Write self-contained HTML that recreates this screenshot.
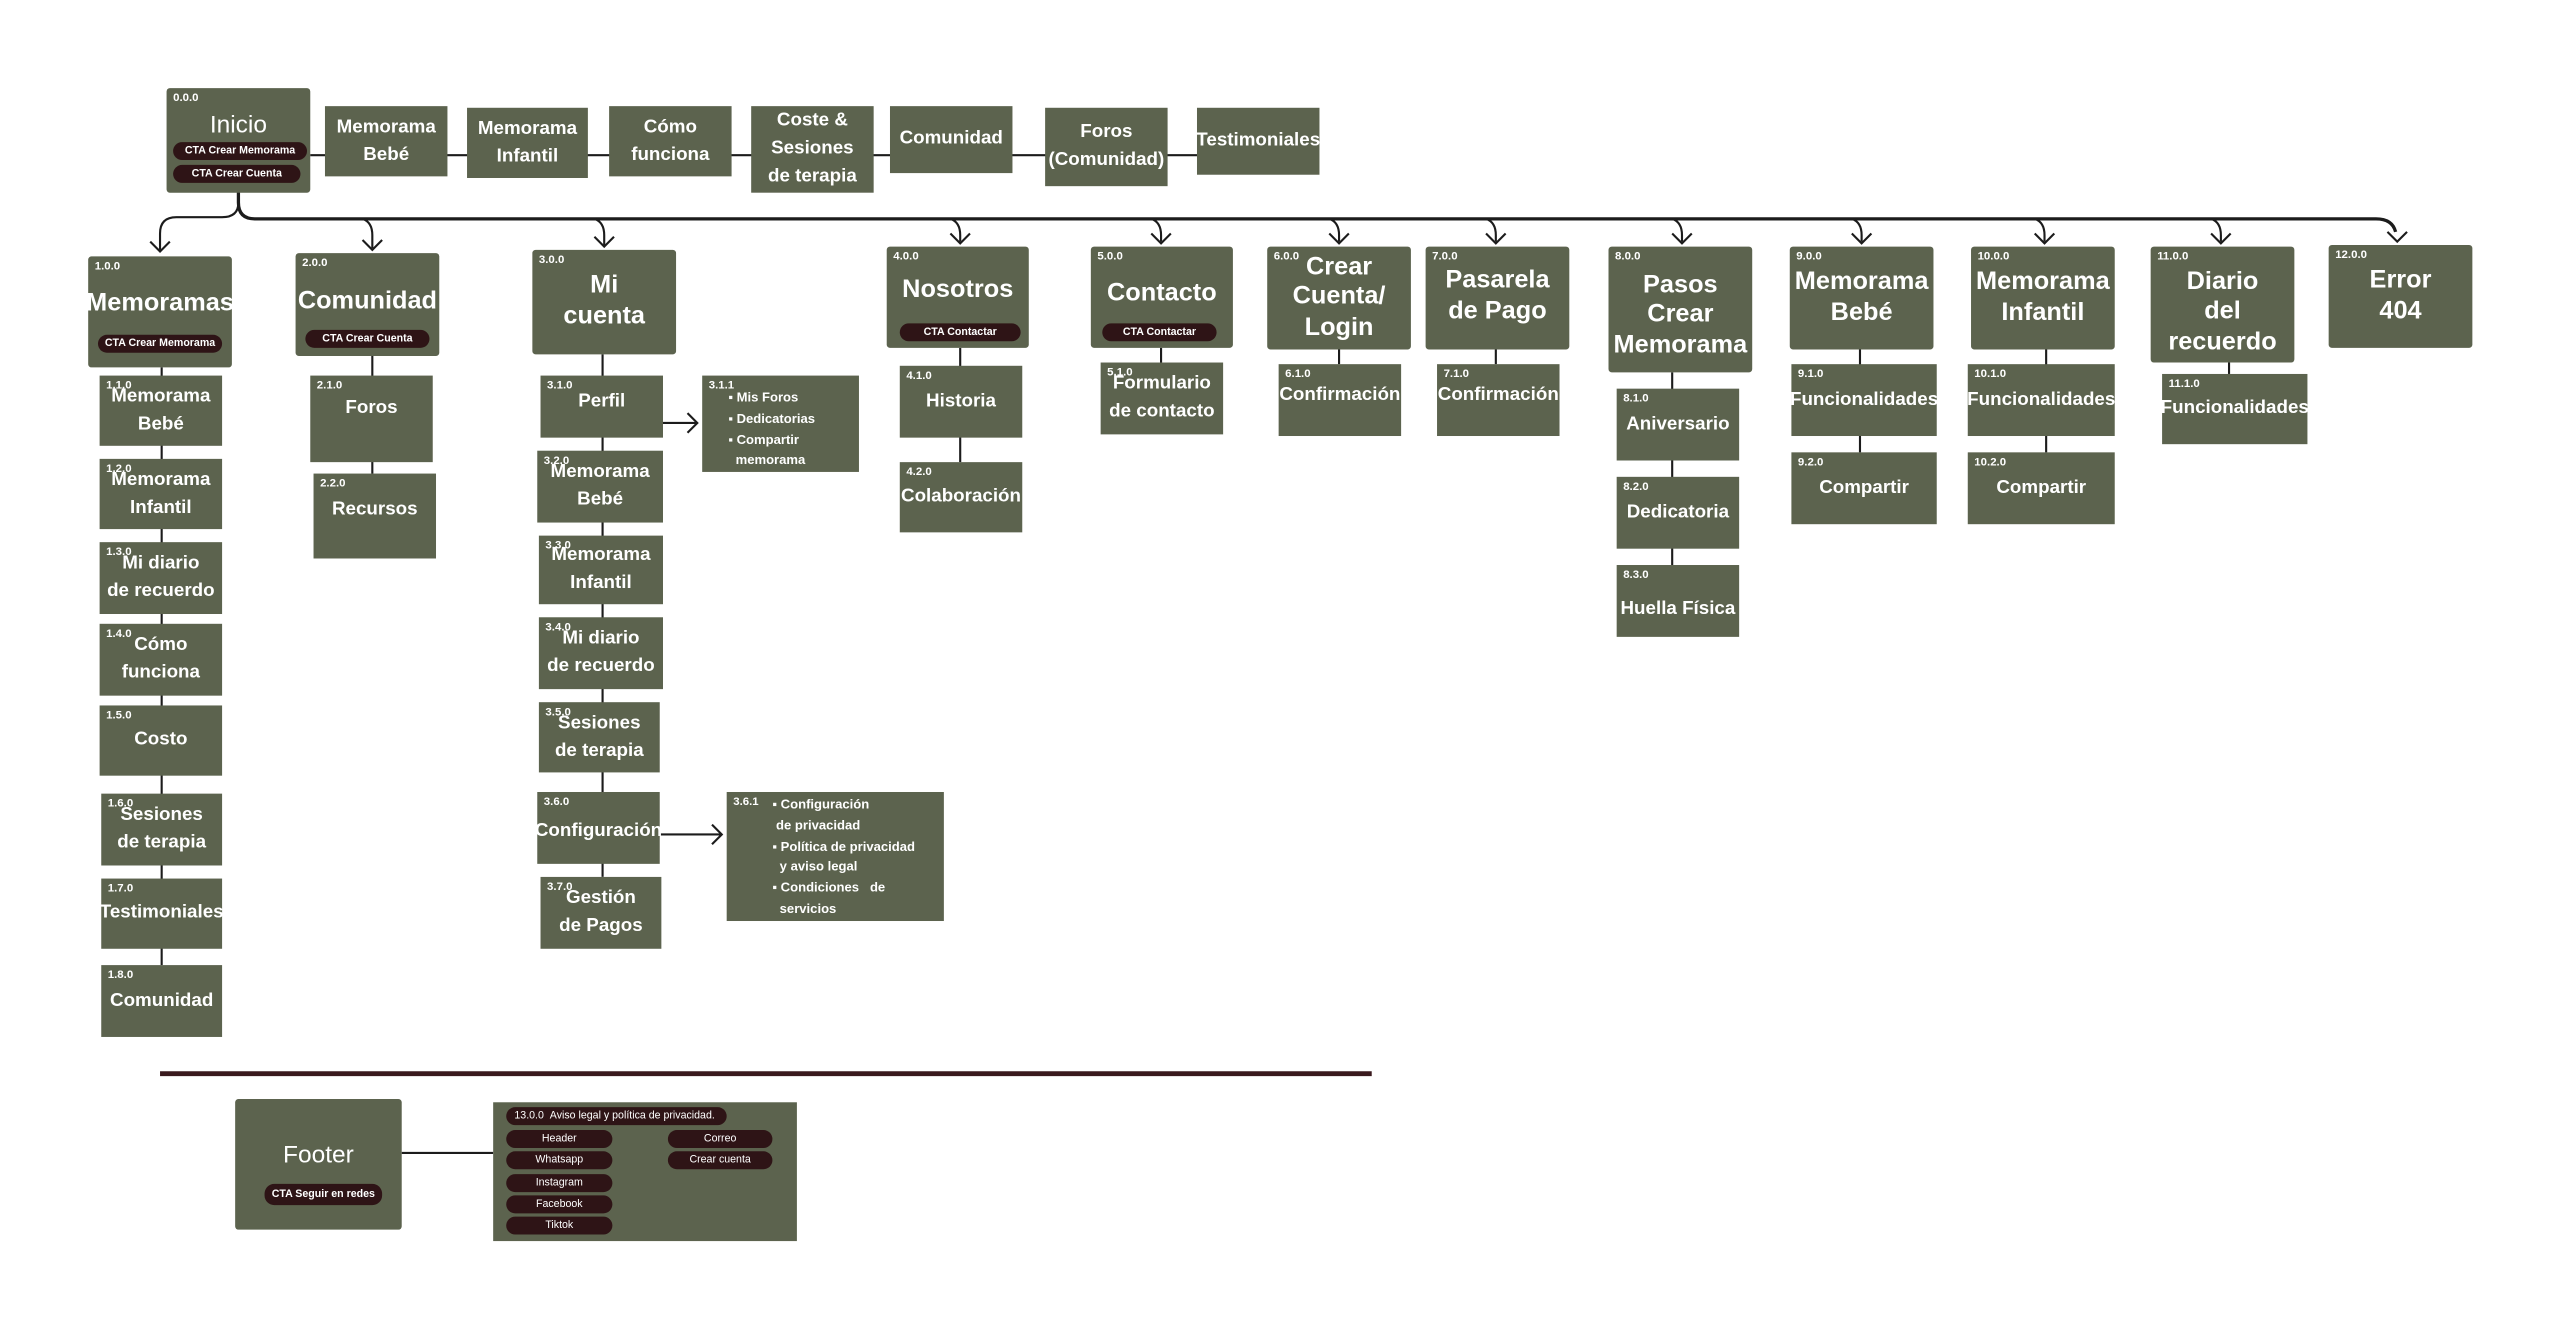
<!DOCTYPE html>
<html><head><meta charset="utf-8">
<style>
html,body{margin:0;padding:0;background:#fff;}
body{width:2560px;height:1330px;overflow:hidden;position:relative;}
#c{position:absolute;left:0;top:0;width:1560px;height:810px;transform:scale(1.633);transform-origin:0 0;font-family:"Liberation Sans",sans-serif;}
.b{position:absolute;background:#5c634e;color:#fff;font-weight:bold;display:flex;flex-direction:column;align-items:center;justify-content:center;text-align:center;box-sizing:border-box;line-height:1.45;font-size:11.5px;}
.r{border-radius:2px;}
.t{font-size:15.5px;line-height:1.2;}
.n{position:absolute;left:4px;top:3px;font-size:7px;font-weight:bold;line-height:1;}
.p{background:#2e1416;color:#fff;border-radius:6px;font-size:6.5px;line-height:11px;height:11px;font-weight:bold;white-space:nowrap;position:absolute;text-align:center;}
svg{position:absolute;left:0;top:0;}
.l{position:absolute;left:6px;top:0;font-size:8px;line-height:12.8px;text-align:left;}
</style></head><body><div id="c">
<svg width="1560" height="810" viewBox="0 0 1560 810">
<g fill="none" stroke="#1c1c1c" stroke-width="1.3">
<line x1="190" y1="95" x2="733" y2="95"/>
<path d="M146 124 Q146 133 136 133 H108 Q98 133 98 143 V153"/>
<path d="M92 148 L98 154 L104 148"/>
</g>
<path d="M146 117 V124 Q146 134 156 134 H1455 Q1465 134 1467 142" fill="none" stroke="#1c1c1c" stroke-width="2"/>
<g fill="none" stroke="#1c1c1c" stroke-width="1.3">
<path d="M222 134 Q228 136 228 144 V152"/><path d="M222 147 L228 153 L234 147"/>
<path d="M364 134 Q370 136 370 144 V150"/><path d="M364 145 L370 151 L376 145"/>
<path d="M582 134 Q588 136 588 144 V148"/><path d="M582 143 L588 149 L594 143"/>
<path d="M705 134 Q711 136 711 144 V148"/><path d="M705 143 L711 149 L717 143"/>
<path d="M814 134 Q820 136 820 144 V148"/><path d="M814 143 L820 149 L826 143"/>
<path d="M910 134 Q916 136 916 144 V148"/><path d="M910 143 L916 149 L922 143"/>
<path d="M1024 134 Q1030 136 1030 144 V148"/><path d="M1024 143 L1030 149 L1036 143"/>
<path d="M1134 134 Q1140 136 1140 144 V148"/><path d="M1134 143 L1140 149 L1146 143"/>
<path d="M1246 134 Q1252 136 1252 144 V148"/><path d="M1246 143 L1252 149 L1258 143"/>
<path d="M1354 134 Q1360 136 1360 144 V148"/><path d="M1354 143 L1360 149 L1366 143"/>
<path d="M1462 142 L1468 148 L1474 142"/>
<line x1="99" y1="225" x2="99" y2="591"/>
<line x1="228" y1="218" x2="228" y2="290"/>
<line x1="369" y1="217" x2="369" y2="537"/>
<line x1="588" y1="213" x2="588" y2="283"/>
<line x1="711" y1="213" x2="711" y2="222"/>
<line x1="820" y1="214" x2="820" y2="223"/>
<line x1="916" y1="214" x2="916" y2="223"/>
<line x1="1024" y1="228" x2="1024" y2="346"/>
<line x1="1139" y1="214" x2="1139" y2="277"/>
<line x1="1253" y1="214" x2="1253" y2="277"/>
<line x1="1365" y1="222" x2="1365" y2="229"/>
<line x1="406" y1="259" x2="427" y2="259"/><path d="M421 253 L427 259 L421 265"/>
<line x1="404" y1="511" x2="442" y2="511"/><path d="M436 505 L442 511 L436 517"/>
<line x1="246" y1="706" x2="302" y2="706"/>
</g>
<line x1="98" y1="657.5" x2="840" y2="657.5" stroke="#3a1a1e" stroke-width="3"/>
</svg>

<div class="b r" style="left:102px;top:54px;width:88px;height:64px;justify-content:flex-start;"><span class="n">0.0.0</span><span style="font-size:15px;font-weight:normal;margin-top:12px;">Inicio</span>
<div class="p" style="left:4px;top:33px;width:82px;">CTA Crear Memorama</div><div class="p" style="left:4px;top:47px;width:78px;">CTA Crear Cuenta</div></div>
<div class="b" style="left:199px;top:65px;width:75px;height:43px;">Memorama<br>Bebé</div>
<div class="b" style="left:286px;top:66px;width:74px;height:43px;">Memorama<br>Infantil</div>
<div class="b" style="left:373px;top:65px;width:75px;height:43px;">Cómo<br>funciona</div>
<div class="b" style="left:460px;top:65px;width:75px;height:53px;">Coste &amp;<br>Sesiones<br>de terapia</div>
<div class="b" style="left:545px;top:65px;width:75px;height:41px;">Comunidad</div>
<div class="b" style="left:640px;top:66px;width:75px;height:48px;">Foros<br>(Comunidad)</div>
<div class="b" style="left:733px;top:66px;width:75px;height:41px;">Testimoniales</div>

<div class="b r t" style="left:54px;top:157px;width:88px;height:68px;justify-content:flex-start;padding-top:20px;"><span class="n">1.0.0</span>Memoramas<div class="p" style="left:6px;top:48px;width:76px;">CTA Crear Memorama</div></div>
<div class="b" style="left:61px;top:230px;width:75px;height:43px;"><span class="n">1.1.0</span>Memorama<br>Bebé</div>
<div class="b" style="left:61px;top:281px;width:75px;height:43px;"><span class="n">1.2.0</span>Memorama<br>Infantil</div>
<div class="b" style="left:61px;top:332px;width:75px;height:44px;"><span class="n">1.3.0</span>Mi diario<br>de recuerdo</div>
<div class="b" style="left:61px;top:382px;width:75px;height:44px;"><span class="n">1.4.0</span>Cómo<br>funciona</div>
<div class="b" style="left:61px;top:432px;width:75px;height:43px;"><span class="n">1.5.0</span>Costo</div>
<div class="b" style="left:62px;top:486px;width:74px;height:44px;"><span class="n">1.6.0</span>Sesiones<br>de terapia</div>
<div class="b" style="left:62px;top:538px;width:74px;height:43px;"><span class="n">1.7.0</span>Testimoniales</div>
<div class="b" style="left:62px;top:591px;width:74px;height:44px;"><span class="n">1.8.0</span>Comunidad</div>

<div class="b r t" style="left:181px;top:155px;width:88px;height:63px;justify-content:flex-start;padding-top:21px;"><span class="n">2.0.0</span>Comunidad<div class="p" style="left:6px;top:47px;width:76px;">CTA Crear Cuenta</div></div>
<div class="b" style="left:190px;top:230px;width:75px;height:53px;justify-content:flex-start;padding-top:12px;"><span class="n">2.1.0</span>Foros</div>
<div class="b" style="left:192px;top:290px;width:75px;height:52px;justify-content:flex-start;padding-top:14px;"><span class="n">2.2.0</span>Recursos</div>

<div class="b r t" style="left:326px;top:153px;width:88px;height:64px;"><span class="n">3.0.0</span>Mi<br>cuenta</div>
<div class="b" style="left:331px;top:230px;width:75px;height:38px;justify-content:flex-start;padding-top:8px;"><span class="n">3.1.0</span>Perfil</div>
<div class="b" style="left:329px;top:276px;width:77px;height:44px;"><span class="n">3.2.0</span>Memorama<br>Bebé</div>
<div class="b" style="left:330px;top:328px;width:76px;height:42px;"><span class="n">3.3.0</span>Memorama<br>Infantil</div>
<div class="b" style="left:330px;top:378px;width:76px;height:44px;"><span class="n">3.4.0</span>Mi diario<br>de recuerdo</div>
<div class="b" style="left:330px;top:430px;width:74px;height:43px;"><span class="n">3.5.0</span>Sesiones<br>de terapia</div>
<div class="b" style="left:329px;top:485px;width:75px;height:44px;padding-top:4px;"><span class="n">3.6.0</span>Configuración</div>
<div class="b" style="left:331px;top:537px;width:74px;height:44px;"><span class="n">3.7.0</span>Gestión<br>de Pagos</div>
<div class="b" style="left:430px;top:230px;width:96px;height:59px;"><span class="n">3.1.1</span><div class="l" style="left:16px;top:8px;">▪ Mis Foros<br>▪ Dedicatorias<br>▪ Compartir<br>&nbsp;&nbsp;memorama</div></div>
<div class="b" style="left:445px;top:485px;width:133px;height:79px;"><span class="n">3.6.1</span><div class="l" style="left:28px;top:2px;">▪ Configuración<br>&nbsp;de privacidad<br>▪ Política de privacidad<br>&nbsp;&nbsp;y aviso legal<br>▪ Condiciones &nbsp;&nbsp;de<br>&nbsp;&nbsp;servicios</div></div>

<div class="b r t" style="left:543px;top:151px;width:87px;height:62px;justify-content:flex-start;padding-top:18px;"><span class="n">4.0.0</span>Nosotros<div class="p" style="left:8px;top:47px;width:74px;">CTA Contactar</div></div>
<div class="b" style="left:551px;top:224px;width:75px;height:44px;"><span class="n">4.1.0</span>Historia</div>
<div class="b" style="left:551px;top:283px;width:75px;height:43px;"><span class="n">4.2.0</span>Colaboración</div>
<div class="b r t" style="left:668px;top:151px;width:87px;height:62px;justify-content:flex-start;padding-top:20px;"><span class="n">5.0.0</span>Contacto<div class="p" style="left:7px;top:47px;width:70px;">CTA Contactar</div></div>
<div class="b" style="left:674px;top:222px;width:75px;height:44px;"><span class="n">5.1.0</span>Formulario<br>de contacto</div>
<div class="b r t" style="left:776px;top:151px;width:88px;height:63px;"><span class="n">6.0.0</span>Crear<br>Cuenta/<br>Login</div>
<div class="b" style="left:783px;top:223px;width:75px;height:44px;justify-content:flex-start;padding-top:11px;"><span class="n">6.1.0</span>Confirmación</div>
<div class="b r t" style="left:873px;top:151px;width:88px;height:63px;justify-content:flex-start;padding-top:12px;"><span class="n">7.0.0</span>Pasarela<br>de Pago</div>
<div class="b" style="left:880px;top:223px;width:75px;height:44px;justify-content:flex-start;padding-top:11px;"><span class="n">7.1.0</span>Confirmación</div>
<div class="b r t" style="left:985px;top:151px;width:88px;height:77px;padding-top:8px;"><span class="n">8.0.0</span>Pasos<br>Crear<br>Memorama</div>
<div class="b" style="left:990px;top:238px;width:75px;height:44px;"><span class="n">8.1.0</span>Aniversario</div>
<div class="b" style="left:990px;top:292px;width:75px;height:44px;"><span class="n">8.2.0</span>Dedicatoria</div>
<div class="b" style="left:990px;top:346px;width:75px;height:44px;padding-top:10px;"><span class="n">8.3.0</span>Huella Física</div>
<div class="b r t" style="left:1096px;top:151px;width:88px;height:63px;"><span class="n">9.0.0</span>Memorama<br>Bebé</div>
<div class="b" style="left:1097px;top:223px;width:89px;height:44px;"><span class="n">9.1.0</span>Funcionalidades</div>
<div class="b" style="left:1097px;top:277px;width:89px;height:44px;"><span class="n">9.2.0</span>Compartir</div>
<div class="b r t" style="left:1207px;top:151px;width:88px;height:63px;"><span class="n">10.0.0</span>Memorama<br>Infantil</div>
<div class="b" style="left:1205px;top:223px;width:90px;height:44px;"><span class="n">10.1.0</span>Funcionalidades</div>
<div class="b" style="left:1205px;top:277px;width:90px;height:44px;"><span class="n">10.2.0</span>Compartir</div>
<div class="b r t" style="left:1317px;top:151px;width:88px;height:71px;padding-top:10px;"><span class="n">11.0.0</span>Diario<br>del<br>recuerdo</div>
<div class="b" style="left:1324px;top:229px;width:89px;height:43px;"><span class="n">11.1.0</span>Funcionalidades</div>
<div class="b r t" style="left:1426px;top:150px;width:88px;height:63px;"><span class="n">12.0.0</span>Error<br>404</div>

<div class="b r" style="left:144px;top:673px;width:102px;height:80px;justify-content:flex-start;"><span style="font-size:15px;font-weight:normal;margin-top:24px;">Footer</span><div class="p" style="left:18px;top:52px;width:72px;height:13px;line-height:13px;">CTA Seguir en redes</div></div>
<div class="b" style="left:302px;top:675px;width:186px;height:85px;">
<div class="p" style="left:8px;top:3px;width:135px;text-align:left;padding-left:5px;box-sizing:border-box;font-weight:normal;">13.0.0 &nbsp;Aviso legal y política de privacidad.</div>
<div class="p" style="left:8px;top:17px;width:65px;font-weight:normal;">Header</div>
<div class="p" style="left:8px;top:30px;width:65px;font-weight:normal;">Whatsapp</div>
<div class="p" style="left:8px;top:44px;width:65px;font-weight:normal;">Instagram</div>
<div class="p" style="left:8px;top:57px;width:65px;font-weight:normal;">Facebook</div>
<div class="p" style="left:8px;top:70px;width:65px;font-weight:normal;">Tiktok</div>
<div class="p" style="left:107px;top:17px;width:64px;font-weight:normal;">Correo</div>
<div class="p" style="left:107px;top:30px;width:64px;font-weight:normal;">Crear cuenta</div>
</div>
</div></body></html>
